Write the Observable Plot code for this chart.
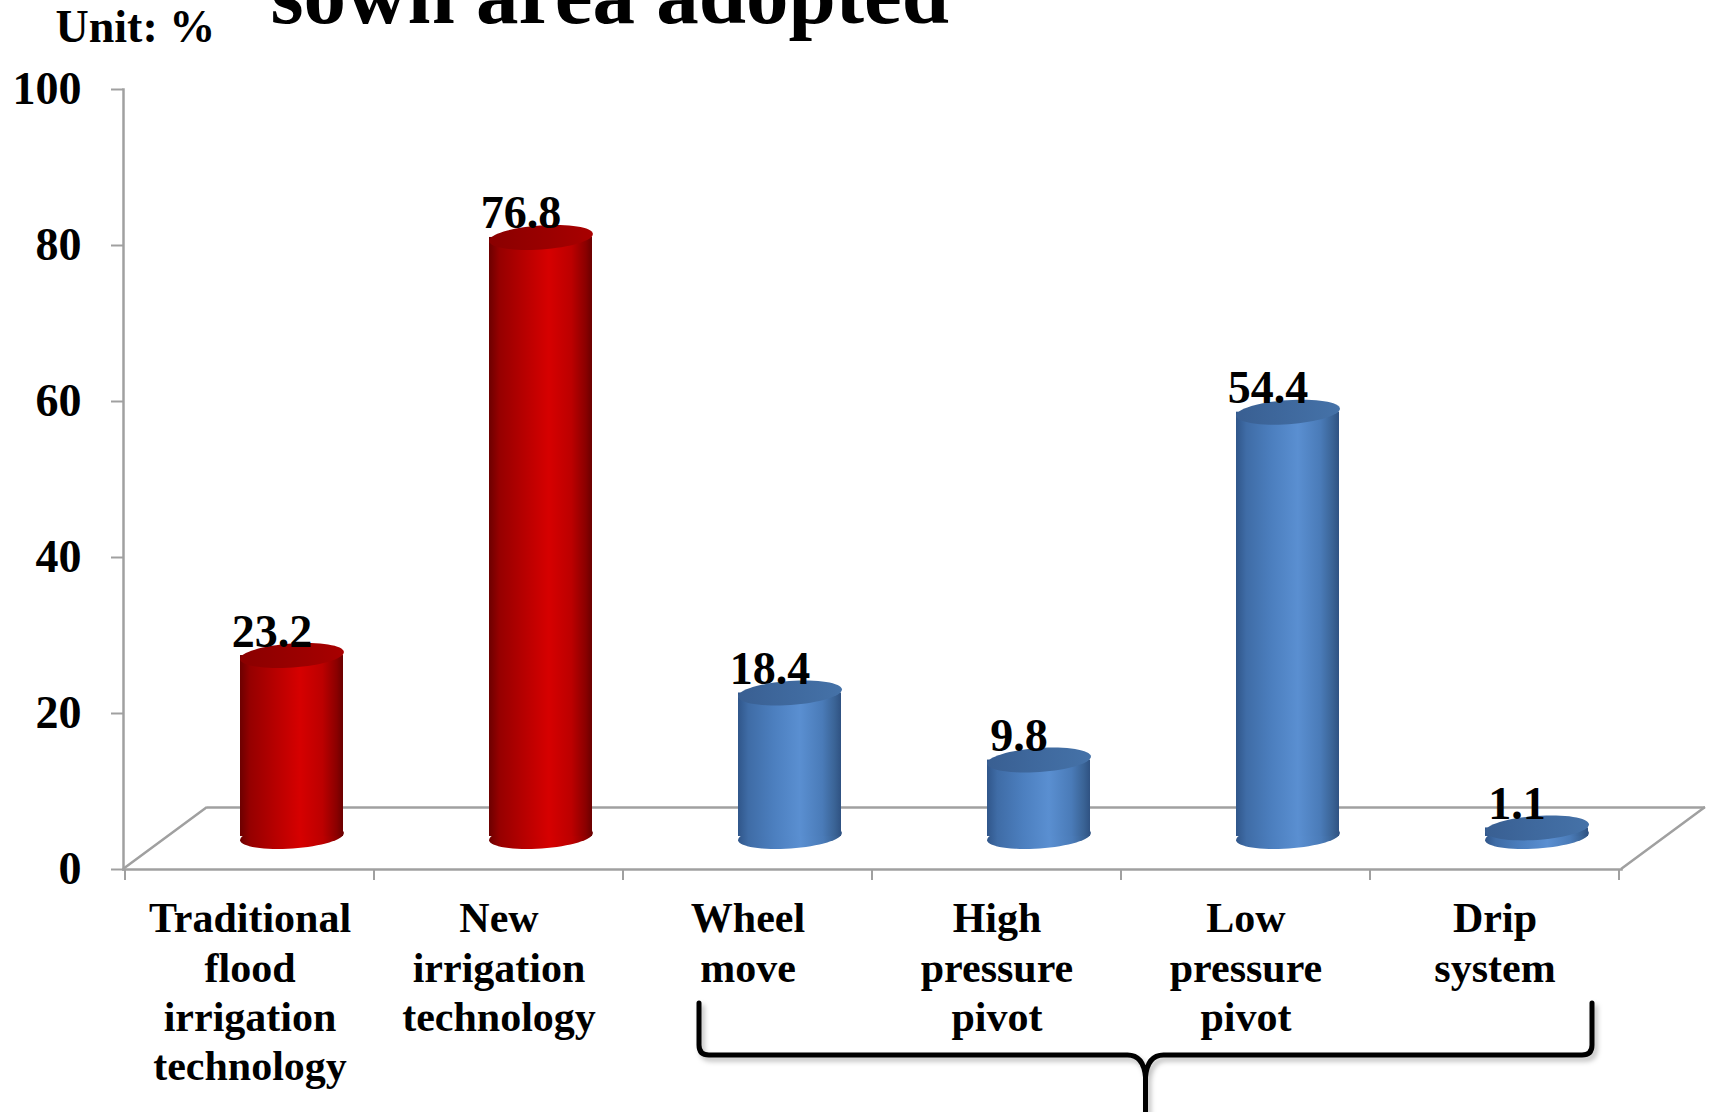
<!DOCTYPE html>
<html>
<head>
<meta charset="utf-8">
<script src="https://cdn.jsdelivr.net/npm/d3@7"></script>
<script src="https://cdn.jsdelivr.net/npm/@observablehq/plot@0.6"></script>
<style>
  html, body { margin: 0; padding: 0; background: white; }
  #chart { position: relative; width: 1709px; height: 1112px; overflow: hidden; }
</style>
</head>
<body>
<div id="chart"></div>
<script>
// ---- data ----
const categories = [
  "Traditional flood irrigation technology",
  "New irrigation technology",
  "Wheel move",
  "High pressure pivot",
  "Low pressure pivot",
  "Drip system"
];
const labelLines = [
  "Traditional\nflood\nirrigation\ntechnology",
  "New\nirrigation\ntechnology",
  "Wheel\nmove",
  "High\npressure\npivot",
  "Low\npressure\npivot",
  "Drip\nsystem"
];
const values = [23.2, 76.8, 18.4, 9.8, 54.4, 1.1];
const groups = ["total", "total", "new", "new", "new", "new"];
const yTicks = [0, 20, 40, 60, 80, 100];
const titleText = "sown area adopted";
const unitText = "Unit: %";

const data = categories.map((c, i) => ({
  category: c, value: values[i], group: groups[i], label: labelLines[i]
}));

// ---- layout constants ----
const W = 1709, H = 1112;
const mL = 123, mR = 88, mT = 89, mB = 243;
const depthX = 84, depthY = -62;       // 3D floor depth offset
const cylDx = 42, cylDy = -33;         // cylinders sit mid-depth
const font = "'Liberation Serif', 'Times New Roman', serif";
const gray = "#a0a0a0";

function ellipseSymbol(rx, ry, angleDeg) {
  const a = angleDeg * Math.PI / 180, ca = Math.cos(a), sa = Math.sin(a);
  return {
    draw(ctx) {
      const n = 64;
      for (let i = 0; i <= n; i++) {
        const t = (i / n) * 2 * Math.PI;
        const px = rx * Math.cos(t), py = ry * Math.sin(t);
        const X = px * ca - py * sa, Y = px * sa + py * ca;
        if (i === 0) ctx.moveTo(X, Y); else ctx.lineTo(X, Y);
      }
      ctx.closePath();
    }
  };
}
const ell = ellipseSymbol(52, 12, -4);

const redData = data.filter(d => d.group === "total");
const blueData = data.filter(d => d.group !== "total");

function cylinder(subset, bodyFill, topFill) {
  return [
    Plot.dot(subset, {x: "category", y: () => 0, symbol: ell, r: 1, fill: bodyFill, stroke: "none", dx: cylDx, dy: cylDy}),
    Plot.barY(subset, {x: "category", y: "value", fill: bodyFill, insetLeft: 73, insetRight: 73, dx: cylDx, dy: cylDy}),
    Plot.dot(subset, {x: "category", y: "value", symbol: ell, r: 1, fill: topFill, stroke: "none", dx: cylDx, dy: cylDy})
  ];
}

const plot = Plot.plot({
  width: W, height: H,
  marginLeft: mL, marginRight: mR, marginTop: mT, marginBottom: mB,
  style: {fontFamily: font, fontWeight: "bold", color: "black", background: "white", overflow: "visible"},
  x: {domain: categories, padding: 0, axis: null},
  y: {domain: [0, 100], axis: null},
  marks: [
    // floor back edge
    Plot.ruleY([0], {dx: depthX, dy: depthY, stroke: gray, strokeWidth: 2.5}),
    // y axis ticks + labels
    Plot.axisY({ticks: yTicks, tickSize: 12, tickPadding: 30, stroke: gray, strokeWidth: 2, fill: "black",
      fontSize: 46, fontWeight: "bold", fontFamily: font, label: null}),
    // front edges
    Plot.frame({anchor: "left", stroke: gray, strokeWidth: 2.5}),
    Plot.frame({anchor: "bottom", stroke: gray, strokeWidth: 2.5}),
    // cylinders
    ...cylinder(redData, "url(#redBody)", "url(#redTop)"),
    ...cylinder(blueData, "url(#blueBody)", "url(#blueTop)"),
    // value labels
    Plot.text(data, {x: "category", y: "value", text: d => d.value.toFixed(1), dx: 22, dy: -42,
      lineAnchor: "bottom", fontSize: 46, fontWeight: "bold", fill: "black"}),
    // category labels
    Plot.text(data, {x: "category", text: "label", frameAnchor: "bottom", lineAnchor: "top", dy: 28,
      fontSize: 42, lineHeight: 1.17, fontWeight: "bold", fill: "black"}),
    // unit and title
    Plot.text([unitText], {text: d => d, frameAnchor: "top-left", textAnchor: "start", lineAnchor: "bottom",
      dx: 55 - mL, dy: 41 - mT, fontSize: 46, fontWeight: "bold", fill: "black"}),
    Plot.text([titleText], {text: d => d, frameAnchor: "top-left", textAnchor: "start", lineAnchor: "bottom",
      dx: 270 - mL, dy: 22 - mT, fontSize: 85, fontWeight: "bold", fill: "black"})
  ]
});

// ---- gradients & decorations derived from the plot's scales ----
const svg = d3.select(plot);
const defs = svg.insert("defs", ":first-child");
function grad(id, stops) {
  const g = defs.append("linearGradient").attr("id", id).attr("x1", "0").attr("x2", "1").attr("y1", "0").attr("y2", "0");
  stops.forEach(([o, c]) => g.append("stop").attr("offset", o).attr("stop-color", c));
}
grad("redBody", [[0, "#6c0000"], [0.1, "#960000"], [0.35, "#b80000"], [0.58, "#d60000"], [0.8, "#bc0000"], [0.94, "#8a0000"], [1, "#6a0000"]]);
grad("redTop", [[0, "#8a0000"], [0.5, "#990000"], [1, "#a80000"]]);
grad("blueBody", [[0, "#30568a"], [0.1, "#3f6ca6"], [0.35, "#4c7fbf"], [0.6, "#5a8fd1"], [0.82, "#4a7bb8"], [0.94, "#3a6395"], [1, "#2f5282"]]);
grad("blueTop", [[0, "#395f92"], [0.5, "#3f699e"], [1, "#4572a8"]]);
const f = defs.append("filter").attr("id", "shadow").attr("x", "-10%").attr("y", "-50%").attr("width", "120%").attr("height", "200%");
f.append("feDropShadow").attr("dx", 3).attr("dy", 4).attr("stdDeviation", 2.5).attr("flood-color", "#000").attr("flood-opacity", 0.25);

const xs = plot.scale("x"), ys = plot.scale("y");
const x0 = xs.range[0], x1 = xs.range[1], bw = xs.bandwidth;
const y0 = ys.apply(0);
const deco = svg.append("g").attr("fill", "none");
// floor sides
deco.append("path").attr("stroke", gray).attr("stroke-width", 2.5)
  .attr("d", `M${x0},${y0}L${x0 + depthX},${y0 + depthY}M${x1},${y0}L${x1 + depthX},${y0 + depthY}`);
// category boundary ticks
const bounds = categories.map(c => xs.apply(c)).concat([xs.apply(categories[categories.length - 1]) + bw]);
deco.append("path").attr("stroke", gray).attr("stroke-width", 2)
  .attr("d", bounds.map(b => `M${b},${y0}L${b},${y0 + 11}`).join(""));
// brace under the new irrigation technologies
const bl = xs.apply("Wheel move") + 76;
const br = xs.apply("Drip system") + bw - 27;
const bc = (bl + br) / 2, bt = 1003, bh = 1055, bb = H + 5;
deco.append("path").attr("stroke", "black").attr("stroke-width", 5).attr("filter", "url(#shadow)")
  .attr("stroke-linecap", "round").attr("stroke-linejoin", "round")
  .attr("d", `M${bl},${bt}L${bl},${bh - 10}Q${bl},${bh} ${bl + 10},${bh}L${bc - 18},${bh}Q${bc - 2},${bh} ${bc},${bh + 22}L${bc},${bb}` +
             `M${br},${bt}L${br},${bh - 10}Q${br},${bh} ${br - 10},${bh}L${bc + 18},${bh}Q${bc + 2},${bh} ${bc},${bh + 22}`);

document.getElementById("chart").appendChild(plot);
</script>
</body>
</html>
